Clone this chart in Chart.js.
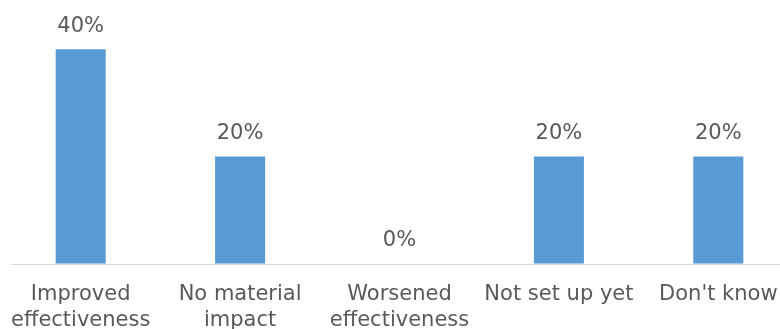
<!DOCTYPE html>
<html>
<head>
<meta charset="utf-8">
<script src="https://cdn.jsdelivr.net/npm/chart.js@4/dist/chart.umd.min.js"></script>
<style>
html,body{margin:0;padding:0;background:#fff;overflow:hidden;width:780px;height:329px}
#wrap{width:797px;height:360px;margin-left:1px}
</style>
</head>
<body>
<div id="wrap"><canvas id="chart" width="797" height="360"></canvas></div>
<script>
const categories=[["Improved","effectiveness"],["No material","impact"],["Worsened","effectiveness"],"Not set up yet","Don't know"]
const values=[40,20,0,20,20]

const ctx=document.getElementById("chart").getContext("2d")

/* value labels above bars */
const barLabels={
id:"barLabels",
afterDatasetsDraw(chart){
const c=chart.ctx
const meta=chart.getDatasetMeta(0)
c.save()
c.font="21px 'DejaVu Sans'"
c.fillStyle="#595959"
c.textAlign="center"
c.textBaseline="middle"
meta.data.forEach((bar,i)=>{
c.fillText(values[i]+"%",bar.x,bar.y-23)
})
c.restore()
}
}

/* baseline, starts a little in from the left edge like the original */
const baseLine={
id:"baseLine",
beforeDatasetsDraw(chart){
const c=chart.ctx
const y=Math.round(chart.scales.y.getPixelForValue(0))+0.5
c.save()
c.strokeStyle="#d9d9d9"
c.lineWidth=1
c.beginPath()
c.moveTo(10,y)
c.lineTo(chart.chartArea.right,y)
c.stroke()
c.restore()
}
}

new Chart(ctx,{
type:"bar",
data:{
labels:categories,
datasets:[{
data:values,
backgroundColor:"#5b9bd5",
barPercentage:0.314,
categoryPercentage:1
}]
},
options:{
responsive:false,
animation:false,
layout:{padding:{left:0,right:0,top:0,bottom:9}},
plugins:{legend:{display:false},tooltip:{enabled:false}},
scales:{
x:{
grid:{display:false,drawTicks:false},
border:{display:false},
afterFit(scale){
scale.paddingLeft=0
scale.paddingRight=0
},
ticks:{
color:"#595959",
font:{family:"DejaVu Sans",size:21,lineHeight:1.22},
padding:18,
maxRotation:0,
autoSkip:false
}
},
y:{display:false,min:0,max:49.2}
}
},
plugins:[barLabels,baseLine]
})
</script>
</body>
</html>
